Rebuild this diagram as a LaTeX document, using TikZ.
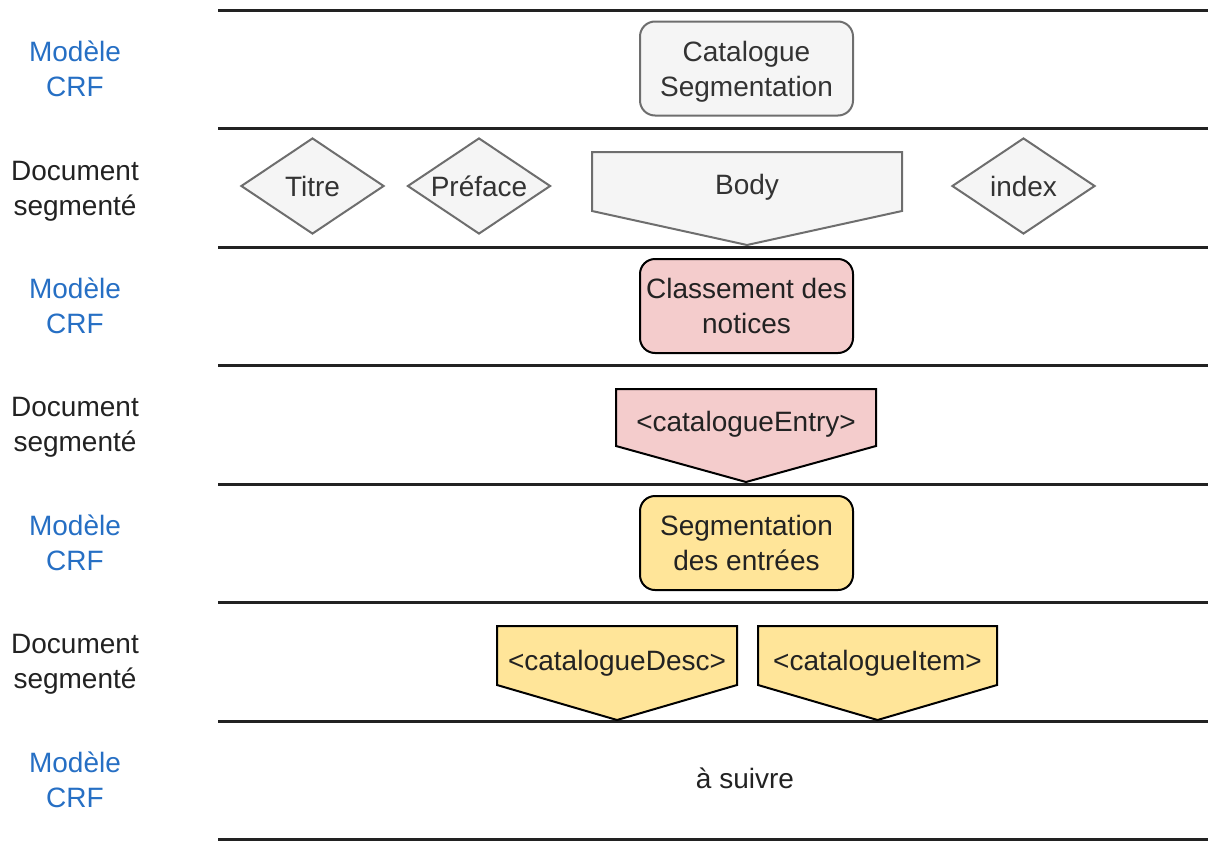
\documentclass[tikz,border=0pt]{standalone}
\usepackage{fontspec}
\setmainfont{Liberation Sans}
\usetikzlibrary{shapes.geometric}
\definecolor{crfblue}{RGB}{38,111,196}
\definecolor{sepline}{RGB}{34,34,34}
\definecolor{grayfill}{RGB}{245,245,245}
\definecolor{grayline}{RGB}{110,110,110}
\definecolor{graytext}{RGB}{51,51,51}
\definecolor{pinkfill}{RGB}{244,204,204}
\definecolor{yellowfill}{RGB}{255,229,153}
\tikzstyle{txt}=[align=center,font=\fontsize{28}{35}\selectfont,text=sepline,text depth=0pt]
\tikzstyle{crf}=[txt,text=crfblue]
\tikzstyle{sep}=[line width=3pt,color=sepline]
\tikzstyle{box}=[txt,draw,line width=2pt,rounded corners=15pt,minimum width=213pt,minimum height=94pt,inner sep=0pt]
\tikzstyle{gray}=[fill=grayfill,draw=grayline,text=graytext]
\tikzstyle{losange}=[txt,gray,diamond,line width=2pt,minimum width=143pt,minimum height=96pt,inner sep=-12pt]
\tikzstyle{tag}=[draw,line width=2pt]

\begin{document}
\begin{tikzpicture}[x=1pt,y=-1pt]
\useasboundingbox (0,0) rectangle (1208,841);
% separateurs
\draw[sep] (218,10) -- (1208,10);
\draw[sep] (218,128) -- (1208,128);
\draw[sep] (218,247) -- (1208,247);
\draw[sep] (218,365) -- (1208,365);
\draw[sep] (218,484) -- (1208,484);
\draw[sep] (218,602) -- (1208,602);
\draw[sep] (218,721) -- (1208,721);
\draw[sep] (218,839) -- (1208,839);
% etiquettes
\node[crf] (Crf1) at (75,69) {Modèle\\CRF};
\node[txt] (Doc1) at (75,188) {Document\\segmenté};
\node[crf] (Crf2) at (75,306) {Modèle\\CRF};
\node[txt] (Doc2) at (75,424) {Document\\segmenté};
\node[crf] (Crf3) at (75,543) {Modèle\\CRF};
\node[txt] (Doc3) at (75,661) {Document\\segmenté};
\node[crf] (Crf4) at (75,780) {Modèle\\CRF};
% ligne 1
\node[box,gray] (CatSeg) at (746.5,68.5) {Catalogue\\Segmentation};
% ligne 2
\node[losange] (Titre) at (312.5,186) {Titre};
\node[losange] (Preface) at (479,186) {Préface};
\node[losange] (Index) at (1023.5,186) {index};
\draw[tag,gray] (592,152) -- (902,152) -- (902,211) -- (747,245) -- (592,211) -- cycle;
\node[txt,text=graytext] (Body) at (747,184) {Body};
% ligne 3
\node[box,fill=pinkfill] (Classement) at (746.5,306) {Classement des\\notices};
% ligne 4
\draw[tag,fill=pinkfill] (616,389) -- (876,389) -- (876,446) -- (746,482) -- (616,446) -- cycle;
\node[txt] (Entry) at (746,421) {<catalogueEntry>};
% ligne 5
\node[box,fill=yellowfill] (SegEntrees) at (746.5,543) {Segmentation\\des entrées};
% ligne 6
\draw[tag,fill=yellowfill] (497,626) -- (737,626) -- (737,685) -- (617,720) -- (497,685) -- cycle;
\node[txt] (Desc) at (617,660) {<catalogueDesc>};
\draw[tag,fill=yellowfill] (758,626) -- (997,626) -- (997,685) -- (877.5,720) -- (758,685) -- cycle;
\node[txt] (Item) at (877.5,660) {<catalogueItem>};
% ligne 7
\node[txt] (Suivre) at (745,778) {à suivre};
\end{tikzpicture}
\end{document}
